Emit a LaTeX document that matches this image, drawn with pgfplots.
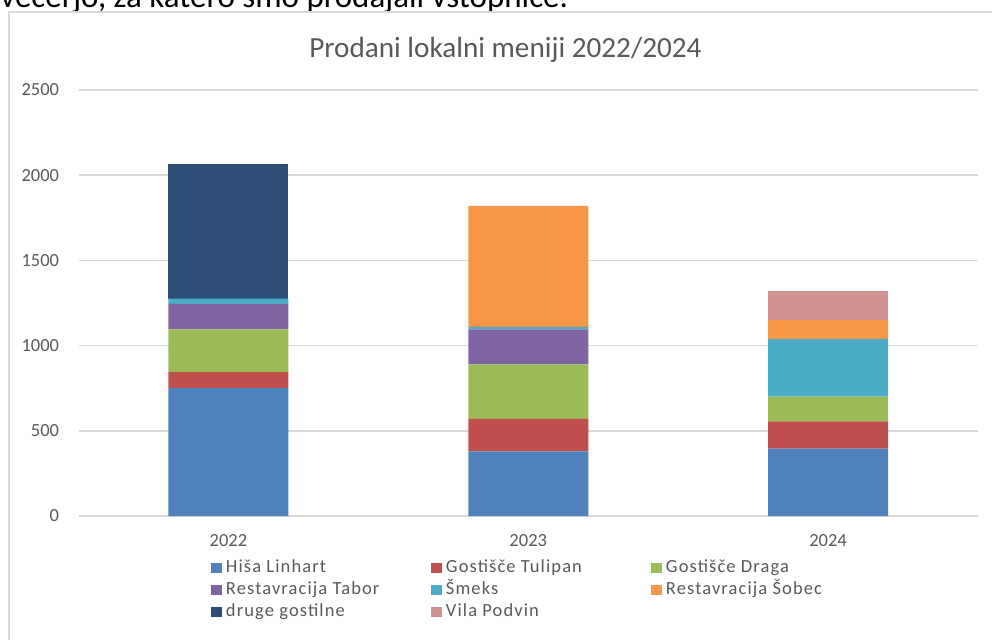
\documentclass[border=0pt]{standalone}
\usepackage{fontspec}
\setmainfont{Carlito}
\newfontfamily\legfont[LetterSpace=6]{Carlito}
\usepackage{pgfplots}
\pgfplotsset{compat=1.18}
\definecolor{c1}{HTML}{4F81BD}
\definecolor{c2}{HTML}{C0504D}
\definecolor{c3}{HTML}{9BBB59}
\definecolor{c4}{HTML}{8064A2}
\definecolor{c5}{HTML}{4BACC6}
\definecolor{c6}{HTML}{F79646}
\definecolor{c7}{HTML}{2C4D75}
\definecolor{c8}{HTML}{D19392}
\definecolor{gridc}{HTML}{D9D9D9}
\definecolor{framec}{HTML}{D9D9D9}
\definecolor{txt}{HTML}{595959}
\newcommand{\legent}[1]{\makebox[104.5pt][l]{\hspace{2pt}\rule[-2.5pt]{0pt}{10pt}#1}}
\begin{document}
\begin{tikzpicture}
\useasboundingbox (0,0) rectangle (496pt,319.5pt);
\begin{scope}
\clip (0,0) rectangle (496pt,319.5pt);
\node[anchor=base west, inner sep=0pt, font=\fontsize{16.5pt}{18pt}\selectfont, text=black] at (0pt,315.5pt) {večerjo, za katero smo prodajali vstopnice.};
\draw[draw=framec, line width=0.75pt] (4.5pt,-5pt) -- (4.5pt,313.5pt) -- (505pt,313.5pt);
\end{scope}
\node[anchor=base, inner sep=0pt, font=\fontsize{14.6pt}{17pt}\selectfont, text=txt] at (252.75pt,290.65pt) {Prodani lokalni meniji 2022/2024};
\begin{axis}[
  at={(39.25pt,61.5pt)}, anchor=south west, scale only axis,
  width=449.75pt, height=213pt,
  ybar stacked, bar width=60pt,
  xmin=-0.5, xmax=2.5, ymin=0, ymax=2500,
  xtick={0,1,2}, xticklabels={2022,2023,2024},
  ytick={0,500,1000,1500,2000,2500},
  /pgf/number format/.cd, 1000 sep={}, assume math mode=true, /pgfplots/.cd,
  ymajorgrids, major grid style={draw=gridc, line width=0.75pt},
  axis line style={draw=none}, major tick length=0pt,
  tick label style={font=\fontsize{9.25pt}{11pt}\selectfont, text=txt},
  yticklabel style={anchor=east, inner sep=0pt, xshift=-9.5pt},
  xticklabel style={anchor=base, inner sep=0pt, yshift=-15pt},
  legend columns=3,
  legend style={at={(0.1473,-0.0979)}, anchor=north west, draw=none, fill=none,
    inner sep=0pt, outer sep=0pt, column sep=0pt, row sep=2pt,
    font=\legfont\fontsize{9.25pt}{11pt}\selectfont, text=txt,
    nodes={inner sep=0pt, anchor=base west}},
  legend image code/.code={\fill[#1,draw=none] (0pt,0pt) rectangle (5.5pt,5pt);},
]
\addplot[fill=c1, draw=none] coordinates {(0,750) (1,380) (2,395)};
\addlegendentry{\legent{Hiša Linhart}}
\addplot[fill=c2, draw=none] coordinates {(0,95) (1,190) (2,160)};
\addlegendentry{\legent{Gostišče Tulipan}}
\addplot[fill=c3, draw=none] coordinates {(0,250) (1,320) (2,145)};
\addlegendentry{\legent{Gostišče Draga}}
\addplot[fill=c4, draw=none] coordinates {(0,150) (1,205) (2,0)};
\addlegendentry{\legent{Restavracija Tabor}}
\addplot[fill=c5, draw=none] coordinates {(0,30) (1,15) (2,340)};
\addlegendentry{\legent{Šmeks}}
\addplot[fill=c6, draw=none] coordinates {(0,0) (1,710) (2,110)};
\addlegendentry{\legent{Restavracija Šobec}}
\addplot[fill=c7, draw=none] coordinates {(0,790) (1,0) (2,0)};
\addlegendentry{\legent{druge gostilne}}
\addplot[fill=c8, draw=none] coordinates {(0,0) (1,0) (2,170)};
\addlegendentry{\legent{Vila Podvin}}
\end{axis}
\end{tikzpicture}
\end{document}
